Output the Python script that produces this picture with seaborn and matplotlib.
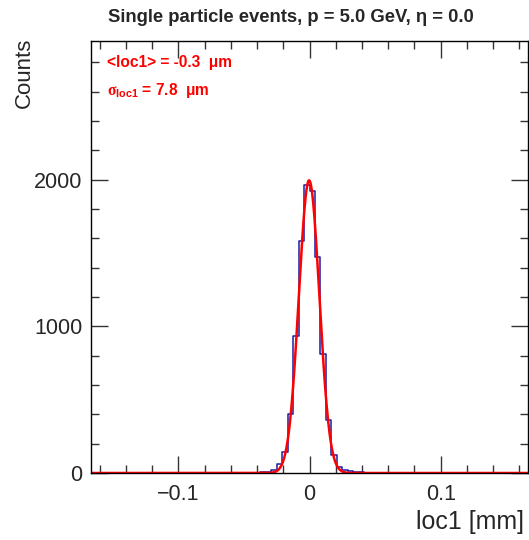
import numpy as np
import pandas as pd
import matplotlib
matplotlib.use("Agg")
import matplotlib.pyplot as plt
import seaborn as sns
from matplotlib.ticker import MultipleLocator

# ---- data ----
x_min, x_max, n_bins = -0.1665, 0.1665, 80
# counts per bin (80 bins from x_min to x_max)
counts = [0] * 80
nonzero = {
    27: 1, 29: 2, 30: 3, 31: 5, 32: 8, 33: 20, 34: 59, 35: 145, 36: 400,
    37: 934, 38: 1580, 39: 1966, 40: 1925, 41: 1471, 42: 814, 43: 363,
    44: 122, 45: 40, 46: 22, 47: 12, 48: 8, 49: 4, 50: 2, 52: 1, 69: 1, 73: 1,
}
for k, v in nonzero.items():
    counts[k] = v

fit_mean = -0.0003     # mm
fit_sigma = 0.0078     # mm
fit_amp = 1995

title = "Single particle events, p = 5.0 GeV, η = 0.0"
mean_label = "<loc1> = -0.3  μm"
sigma_label = r"$\sigma_{\mathbf{loc1}}$" + " = 7.8  μm"
xlabel = "loc1 [mm]"
ylabel = "Counts"
x_ticks = [-0.1, 0, 0.1]
x_ticklabels = ["\u22120.1", "0", "0.1"]
y_ticks = [0, 1000, 2000]

# ---- plot ----
sns.set_style("ticks")
plt.rcParams["font.family"] = ["Liberation Sans", "DejaVu Sans"]
plt.rcParams["mathtext.fontset"] = "custom"
plt.rcParams["mathtext.rm"] = "Liberation Sans:bold"
plt.rcParams["mathtext.it"] = "Liberation Serif:bold"
plt.rcParams["mathtext.bf"] = "Liberation Sans:bold"

edges = [float(e) for e in np.linspace(x_min, x_max, n_bins + 1)]
centers = [0.5 * (edges[i] + edges[i + 1]) for i in range(n_bins)]
df = pd.DataFrame({"x": centers, "w": counts})

fig = plt.figure(figsize=(5.29, 5.40), dpi=100)
ax = fig.add_axes([91 / 529, 1 - 473 / 540, (528 - 91) / 529, (473 - 41) / 540])

sns.histplot(data=df, x="x", weights="w", bins=edges, element="step", fill=False,
             color="#1c1ca8", linewidth=1.1, ax=ax)

xf = np.linspace(x_min, x_max, 1200)
yf = fit_amp * np.exp(-0.5 * ((xf - fit_mean) / fit_sigma) ** 2)
sns.lineplot(x=xf, y=yf, color="#ff0000", linewidth=1.8, ax=ax)

ax.set_xlim(x_min, x_max)
ax.set_ylim(0, 2945)
ax.set_xticks(x_ticks)
ax.set_xticklabels(x_ticklabels)
ax.set_yticks(y_ticks)
ax.xaxis.set_minor_locator(MultipleLocator(0.02))
ax.yaxis.set_minor_locator(MultipleLocator(200))
ax.tick_params(which="both", direction="in", top=True, right=True,
               labelsize=15.5, color="#333333", width=1)
ax.tick_params(which="major", length=12, pad=6)
ax.tick_params(axis="x", which="major", pad=8)
ax.tick_params(which="minor", length=6)
for s in ax.spines.values():
    s.set_linewidth(1)
    s.set_color("black")

ax.set_xlabel("")
ax.set_ylabel("")
fig.text(524 / 529, 1 - 522 / 540, xlabel, ha="right", va="center", fontsize=18)
fig.text(24 / 529, 1 - 38 / 540, ylabel, ha="center", va="top", rotation=90, fontsize=16)
fig.text(291 / 529, 1 - 18 / 540, title, ha="center", va="center", fontsize=13.3,
         fontweight="bold")

ax.text(107 / 529, 1 - 62 / 540, mean_label, transform=fig.transFigure, color="red",
        fontsize=11.2, fontweight="bold", ha="left", va="center")
ax.text(107 / 529, 1 - 91 / 540, sigma_label, transform=fig.transFigure, color="red",
        fontsize=11.2, fontweight="bold", ha="left", va="center")

fig.savefig("out.png", dpi=100)
